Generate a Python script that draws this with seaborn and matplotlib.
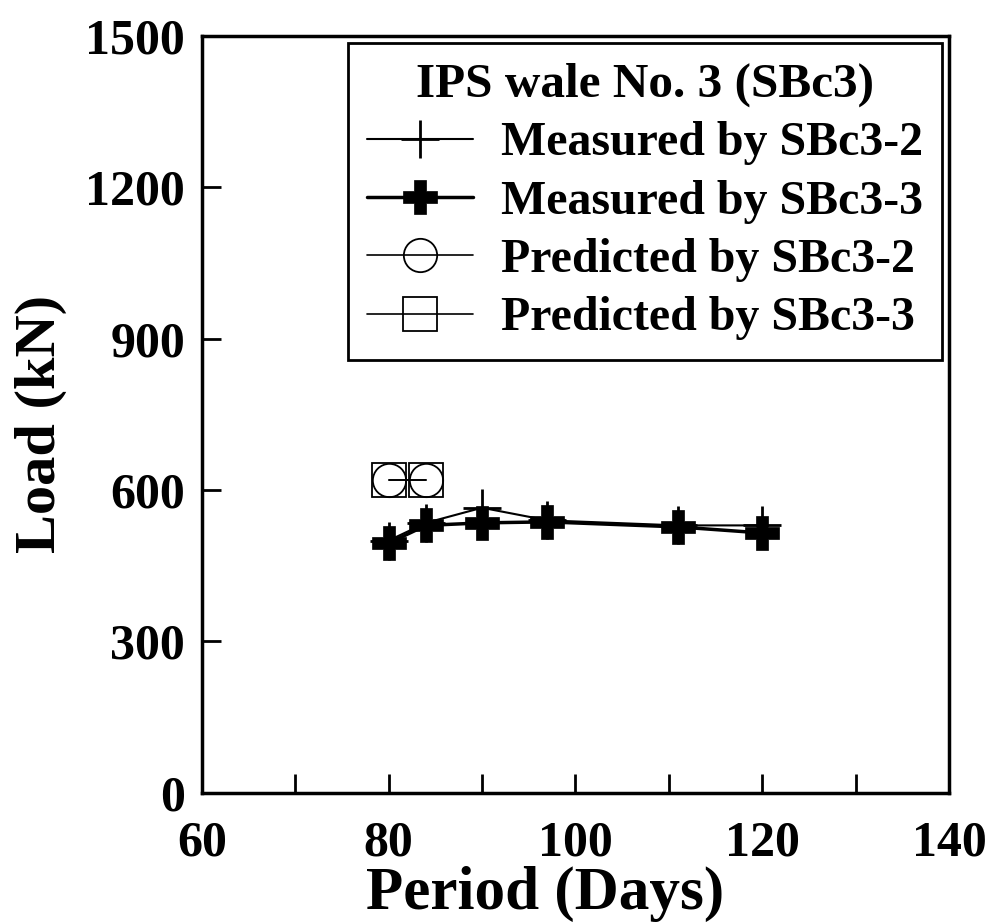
import numpy as np
import pandas as pd
import matplotlib
matplotlib.use("Agg")
import matplotlib.pyplot as plt
import seaborn as sns

sns.set_style("white")
plt.rcParams['font.family'] = ['Liberation Serif', 'DejaVu Serif']
plt.rcParams['font.weight'] = 'bold'
plt.rcParams['text.color'] = 'black'
plt.rcParams['axes.labelcolor'] = 'black'
plt.rcParams['xtick.color'] = 'black'
plt.rcParams['ytick.color'] = 'black'

# measured and predicted loads (kN) against period (days)
days_m2 = [80, 84, 90, 97, 111, 120]
load_m2 = [500, 535, 565, 540, 530, 530]
days_m3 = [80, 84, 90, 97, 111, 120]
load_m3 = [495, 530, 535, 537, 527, 515]
days_p2 = [80, 84]
load_p2 = [620, 620]
days_p3 = [80, 84]
load_p3 = [620, 620]

labels = ['Measured by SBc3-2', 'Measured by SBc3-3',
          'Predicted by SBc3-2', 'Predicted by SBc3-3']

fig = plt.figure(figsize=(9.99, 9.24), dpi=100)
ax = fig.add_axes([0.202, 0.142, 0.748, 0.819])

sns.lineplot(ax=ax, x=days_m2, y=load_m2, color='black', lw=1.5,
             marker='+', markersize=28, markeredgewidth=2,
             markeredgecolor='black', label=labels[0])
sns.lineplot(ax=ax, x=days_m3, y=load_m3, color='black', lw=2.5,
             marker='P', markersize=24, markeredgewidth=0.5,
             markeredgecolor='black', markerfacecolor='black', label=labels[1])
sns.lineplot(ax=ax, x=days_p2, y=load_p2, color='black', lw=1.2,
             marker='o', markersize=24, markerfacecolor='none',
             markeredgecolor='black', markeredgewidth=1.3, label=labels[2])
sns.lineplot(ax=ax, x=days_p3, y=load_p3, color='black', lw=1.2,
             marker='s', markersize=25, markerfacecolor='none',
             markeredgecolor='black', markeredgewidth=1.3, label=labels[3])

ax.set_xlim(60, 140)
ax.set_ylim(0, 1500)
ax.set_xticks(np.arange(60, 141, 20))
ax.set_xticks(np.arange(70, 140, 20), minor=True)
ax.set_yticks(np.arange(0, 1501, 300))
ax.tick_params(axis='both', which='both', direction='in', length=14, width=2,
               bottom=True, left=True, top=False, right=False, labelsize=36)
ax.tick_params(axis='x', pad=20)
ax.tick_params(axis='y', pad=12)
for s in ax.spines.values():
    s.set_linewidth(2.5)
    s.set_color('black')

ax.set_xlabel('Period (Days)', fontsize=44, fontweight='bold', va='bottom')
ax.set_ylabel('Load (kN)', fontsize=42, fontweight='bold')
ax.xaxis.set_label_coords(0.46, -0.171)
ax.yaxis.set_label_coords(-0.181, 0.487)

leg = ax.legend(loc='upper right', bbox_to_anchor=(1.004, 1.003), fontsize=34.5,
                title='IPS wale No. 3 (SBc3)', title_fontsize=35.5,
                frameon=True, fancybox=False, edgecolor='black', framealpha=1,
                handlelength=2.2, handletextpad=0.6, labelspacing=0.3,
                borderpad=0.4, borderaxespad=0.2)
leg.get_frame().set_linewidth(2)
leg.get_title().set_fontweight('bold')
for t in leg.get_texts():
    t.set_fontweight('bold')

fig.savefig('out.png', dpi=100)
